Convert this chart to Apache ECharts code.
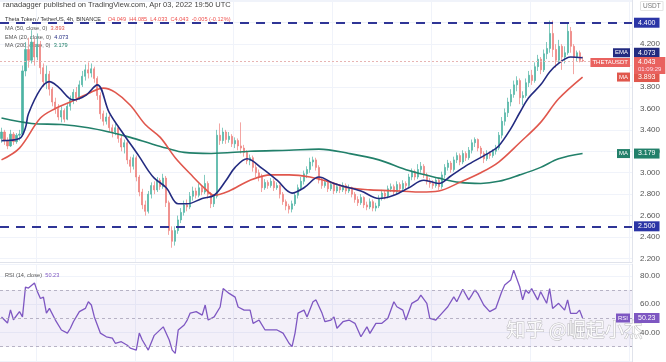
<!DOCTYPE html>
<html><head><meta charset="utf-8">
<script src="https://cdn.jsdelivr.net/npm/echarts@6/dist/echarts.min.js"></script>
<style>html,body{margin:0;padding:0;background:#fff}#c{width:666px;height:362px}</style>
</head><body><div id="c"></div><script>
// [open, close, low, high] per 4h candle
const candles = [
[3.32,3.38,3.28,3.42],[3.38,3.30,3.26,3.40],[3.30,3.25,3.22,3.33],[3.25,3.36,3.24,3.40],[3.36,3.29,3.26,3.38],
[3.29,3.35,3.27,3.37],[3.35,3.36,3.30,3.40],[3.36,3.95,3.34,4.00],[3.95,4.15,3.90,4.22],[4.15,4.05,3.98,4.26],
[4.05,4.22,4.02,4.33],[4.22,4.08,4.00,4.25],[4.08,4.20,4.05,4.30],[4.20,3.98,3.92,4.23],[3.98,3.85,3.80,4.02],
[3.85,3.92,3.78,4.00],[3.92,3.78,3.72,3.95],[3.78,3.66,3.62,3.80],[3.66,3.60,3.55,3.70],[3.60,3.52,3.49,3.64],
[3.52,3.58,3.47,3.62],[3.58,3.50,3.47,3.60],[3.50,3.62,3.49,3.65],[3.62,3.68,3.58,3.72],[3.68,3.75,3.64,3.78],
[3.75,3.70,3.66,3.80],[3.70,3.82,3.68,3.86],[3.82,3.90,3.80,3.95],[3.90,3.96,3.86,4.01],[3.96,3.93,3.88,4.03],
[3.93,3.97,3.89,4.02],[3.97,3.88,3.84,3.99],[3.88,3.72,3.68,3.90],[3.72,3.55,3.50,3.75],[3.55,3.48,3.44,3.58],
[3.48,3.52,3.45,3.56],[3.52,3.42,3.38,3.54],[3.42,3.38,3.33,3.45],[3.38,3.42,3.35,3.46],[3.42,3.32,3.28,3.44],
[3.32,3.24,3.20,3.35],[3.24,3.28,3.18,3.31],[3.28,3.12,3.08,3.30],[3.12,3.06,3.00,3.15],[3.06,3.14,3.03,3.17],
[3.14,2.96,2.92,3.16],[2.96,2.82,2.78,2.98],[2.82,2.70,2.66,2.85],[2.70,2.64,2.60,2.74],[2.64,2.80,2.62,2.83],
[2.80,2.88,2.76,2.91],[2.88,2.84,2.80,2.92],[2.84,2.93,2.82,2.96],[2.93,2.87,2.84,2.95],[2.87,2.95,2.85,2.99],
[2.95,2.72,2.68,2.97],[2.72,2.46,2.42,2.74],[2.46,2.36,2.30,2.50],[2.36,2.46,2.32,2.50],[2.46,2.56,2.43,2.60],
[2.56,2.63,2.53,2.67],[2.63,2.70,2.60,2.74],[2.70,2.68,2.64,2.75],[2.68,2.78,2.66,2.82],[2.78,2.83,2.74,2.87],
[2.83,2.79,2.76,2.86],[2.79,2.86,2.77,2.90],[2.86,2.82,2.79,2.88],[2.82,2.90,2.80,2.98],[2.90,2.80,2.76,2.92],
[2.80,2.71,2.67,2.82],[2.71,2.78,2.68,2.80],[2.78,3.35,2.76,3.40],[3.35,3.30,3.26,3.46],[3.30,3.38,3.27,3.42],
[3.38,3.31,3.27,3.40],[3.31,3.34,3.28,3.38],[3.34,3.27,3.24,3.36],[3.27,3.30,3.23,3.33],[3.30,3.25,3.21,3.32],
[3.25,3.23,3.18,3.47],[3.23,3.19,3.15,3.26],[3.19,3.11,3.08,3.21],[3.11,3.14,3.07,3.17],[3.14,3.05,3.01,3.16],
[3.05,3.00,2.96,3.08],[3.00,2.97,2.92,3.03],[2.97,2.86,2.82,2.99],[2.86,2.91,2.84,2.94],[2.91,2.88,2.85,2.93],
[2.88,2.92,2.86,2.95],[2.92,2.86,2.83,2.94],[2.86,2.88,2.84,2.91],[2.88,2.80,2.76,2.89],[2.80,2.73,2.70,2.82],
[2.73,2.69,2.65,2.75],[2.69,2.66,2.62,2.71],[2.66,2.71,2.63,2.74],[2.71,2.79,2.69,2.82],[2.79,2.86,2.76,2.89],
[2.86,2.92,2.84,2.96],[2.92,2.99,2.89,3.02],[2.99,3.03,2.95,3.06],[3.03,3.10,3.00,3.14],[3.10,3.12,3.06,3.15],
[3.12,3.05,3.02,3.14],[3.05,2.93,2.90,3.07],[2.93,2.88,2.85,2.95],[2.88,2.91,2.86,2.94],[2.91,2.85,2.82,2.93],
[2.85,2.89,2.83,2.92],[2.89,2.83,2.80,2.91],[2.83,2.87,2.81,2.90],[2.87,2.84,2.81,2.89],[2.84,2.88,2.82,2.91],
[2.88,2.83,2.80,2.90],[2.83,2.86,2.81,2.89],[2.86,2.80,2.77,2.87],[2.80,2.75,2.72,2.82],[2.75,2.72,2.69,2.78],
[2.72,2.77,2.70,2.80],[2.77,2.70,2.67,2.78],[2.70,2.68,2.65,2.73],[2.68,2.73,2.66,2.76],[2.73,2.67,2.64,2.75],
[2.67,2.69,2.64,2.72],[2.69,2.76,2.67,2.79],[2.76,2.81,2.74,2.84],[2.81,2.78,2.75,2.83],[2.78,2.85,2.76,2.88],
[2.85,2.87,2.82,2.90],[2.87,2.82,2.79,2.89],[2.82,2.89,2.80,2.92],[2.89,2.85,2.82,2.91],[2.85,2.90,2.83,2.93],
[2.90,2.88,2.85,2.92],[2.88,2.96,2.86,2.99],[2.96,3.01,2.93,3.04],[3.01,2.96,2.93,3.03],[2.96,3.03,2.94,3.08],
[3.03,3.06,3.00,3.10],[3.06,2.98,2.95,3.08],[2.98,2.92,2.89,3.00],[2.92,2.90,2.86,2.95],[2.90,2.88,2.85,2.93],
[2.88,2.93,2.86,2.96],[2.93,2.87,2.84,2.95],[2.87,2.98,2.85,3.01],[2.98,3.05,2.95,3.08],[3.05,3.09,3.02,3.12],
[3.09,3.03,3.00,3.11],[3.03,3.12,3.01,3.15],[3.12,3.16,3.09,3.19],[3.16,3.10,3.07,3.18],[3.10,3.18,3.08,3.21],
[3.18,3.14,3.11,3.20],[3.14,3.21,3.12,3.24],[3.21,3.28,3.18,3.31],[3.28,3.31,3.24,3.33],[3.31,3.23,3.20,3.32],
[3.23,3.18,3.14,3.25],[3.18,3.13,3.09,3.20],[3.13,3.18,3.11,3.21],[3.18,3.16,3.13,3.20],[3.16,3.20,3.14,3.22],
[3.20,3.23,3.17,3.26],[3.23,3.35,3.21,3.38],[3.35,3.48,3.32,3.52],[3.48,3.56,3.44,3.60],[3.56,3.66,3.52,3.70],
[3.66,3.73,3.62,3.78],[3.73,3.82,3.70,3.86],[3.82,3.86,3.76,3.90],[3.86,3.70,3.64,3.88],[3.70,3.72,3.63,3.76],
[3.72,3.84,3.70,3.88],[3.84,3.91,3.80,3.95],[3.91,3.86,3.82,3.96],[3.86,3.99,3.84,4.03],[3.99,4.06,3.95,4.10],
[4.06,3.96,3.92,4.08],[3.96,4.11,3.94,4.15],[4.11,4.16,4.06,4.22],[4.16,4.30,4.12,4.42],[4.30,4.15,4.08,4.42],
[4.15,4.05,3.98,4.20],[4.05,4.18,4.02,4.24],[4.18,4.08,3.96,4.20],[4.08,4.12,4.02,4.18],[4.12,4.32,4.10,4.40],
[4.32,4.18,4.12,4.36],[4.18,4.08,3.92,4.20],[4.08,4.12,4.04,4.14],[4.12,4.049,4.03,4.14],[4.049,4.043,4.033,4.085]
];
// [candle index, value]
const ema20 = [[0,3.30],[6,3.32],[8,3.42],[9,3.55],[13,3.78],[16,3.85],[19,3.80],[24,3.68],[28,3.72],[32,3.82],[36,3.56],[41,3.35],[46,3.15],[49,3.02],[51,2.95],[55,2.86],[59,2.71],[62,2.71],[67,2.76],[71,2.79],[75,2.93],[78,3.05],[82,3.13],[87,3.04],[92,2.93],[97,2.81],[101,2.86],[106,2.96],[111,2.90],[120,2.83],[126,2.76],[131,2.79],[136,2.86],[141,2.93],[146,2.90],[150,2.97],[156,3.08],[163,3.19],[166,3.25],[170,3.41],[173,3.56],[176,3.70],[180,3.82],[183,3.94],[186,4.02],[190,4.08],[194,4.073]];
const ma50 = [[0,3.12],[6,3.23],[13,3.51],[18,3.60],[23,3.66],[29,3.74],[34,3.79],[38,3.75],[43,3.63],[48,3.45],[53,3.33],[58,3.14],[63,2.99],[68,2.85],[71,2.79],[76,2.83],[83,2.93],[90,2.98],[96,2.98],[103,2.96],[110,2.91],[116,2.86],[123,2.84],[133,2.83],[140,2.82],[146,2.83],[153,2.91],[160,3.00],[166,3.10],[173,3.28],[180,3.47],[186,3.69],[194,3.893]];
const ma200 = [[0,3.51],[10,3.46],[20,3.45],[29,3.42],[36,3.38],[43,3.33],[50,3.27],[55,3.23],[61,3.19],[70,3.18],[83,3.20],[96,3.21],[106,3.22],[116,3.18],[126,3.12],[136,3.02],[146,2.95],[153,2.91],[160,2.90],[166,2.92],[173,2.98],[180,3.05],[186,3.13],[194,3.179]];
const rsi14 = [[0,51],[2,46.7],[3,56],[4,49],[6,54.7],[7,51],[8,72],[9,71.4],[11,75],[12,68.8],[13,64],[14,65],[15,53.7],[16,57],[18,48.8],[20,41.8],[22,39.6],[23,43],[24,47.6],[26,54.7],[28,57],[29,61.7],[30,59.4],[31,51],[33,39.6],[35,37],[37,36],[38,32.4],[40,33.5],[42,31],[43,29],[45,27.6],[46,39.6],[47,34.7],[49,27.6],[51,38],[54,44],[56,34.7],[57,27.6],[58,25.3],[59,41.8],[61,45.3],[62,48.8],[63,53.7],[65,54.7],[67,52.3],[68,59.4],[69,48.8],[71,51],[73,58],[74,71],[76,67.6],[78,65],[79,58],[81,55.8],[83,55.8],[84,46.5],[86,48.8],[88,41.8],[90,41.8],[92,41.8],[94,39.6],[96,32.4],[97,30],[98,39.6],[99,53.7],[101,55.8],[102,51],[104,61.7],[105,63],[107,53.7],[108,47.6],[110,48.8],[111,51],[112,43],[114,47.6],[116,48.8],[118,46.5],[120,37],[122,44],[123,39.4],[125,46.5],[127,46.5],[129,50],[131,61.7],[132,58.2],[134,55.8],[135,48.8],[137,60.6],[139,63],[140,66.4],[142,60.6],[143,50],[145,48.8],[147,53.5],[149,58.2],[151,65.2],[152,61.7],[154,70.5],[156,63],[157,66.4],[158,70],[159,67.6],[161,59.4],[163,54.7],[165,57],[167,68.8],[168,73.5],[170,77],[171,84],[173,72.3],[174,63],[175,70],[176,67.6],[177,71],[179,63],[180,68.8],[182,60.6],[183,71],[184,57],[186,60.6],[188,55.8],[189,63],[190,53.5],[192,53.5],[193,55.8],[194,50.23]];
const priceTicks = [2.2,2.4,2.6,2.8,3.0,3.2,3.4,3.6,3.8,4.0,4.2];
const rsiTicks = [40,60,80];
const levels = [4.4, 2.5];
const lastPrice = 4.043;
const rsiBands = [70, 50, 30];

const N = candles.length, PAD = 16;
const categories = [];
const t0 = Date.UTC(2022, 2, 2, 8);
for (let i = 0; i < N + PAD; i++) {
  const d = new Date(t0 + i * 4 * 3600e3);
  categories.push((d.getUTCMonth()+1) + '/' + d.getUTCDate() + ' ' + d.getUTCHours() + ':00');
}
const FONT = 'Liberation Sans, Arial, sans-serif';
const chart = echarts.init(document.getElementById('c'), null, {renderer: 'canvas'});
const near = (v, arr) => arr.some(t => Math.abs(t - v) < 1e-6);
const grid = {color: '#f0f3fa', width: 1};
const vLine = idx => (idx - 12) % 33 === 0;
const UP = '#4db3a4', DOWN = '#ee7f7b';

chart.setOption({
  animation: false,
  backgroundColor: '#fff',
  grid: [
    {left: 0, right: 34, top: 0, height: 262},
    {left: 0, right: 34, top: 264, bottom: 0}
  ],
  xAxis: [
    {type: 'category', gridIndex: 0, data: categories, boundaryGap: true,
     axisLine: {show: true, lineStyle: {color: '#e0e3eb'}}, axisTick: {show: false}, axisLabel: {show: false},
     splitLine: {show: true, interval: vLine, lineStyle: grid}},
    {type: 'category', gridIndex: 1, data: categories, boundaryGap: true,
     axisLine: {show: false}, axisTick: {show: false}, axisLabel: {show: false},
     splitLine: {show: true, interval: vLine, lineStyle: grid}}
  ],
  yAxis: [
    {type: 'value', gridIndex: 0, position: 'right', min: 2.167, max: 4.612, splitNumber: 10, scale: true,
     axisLine: {show: true, lineStyle: {color: '#e0e3eb'}}, axisTick: {show: false},
     axisLabel: {fontSize: 8, color: '#555', fontFamily: FONT, margin: 8, showMinLabel: false, showMaxLabel: false,
       formatter: v => near(v, priceTicks) ? v.toFixed(3) : ''},
     splitLine: {show: true, lineStyle: grid}},
    {type: 'value', gridIndex: 1, position: 'right', min: 19.2, max: 88.34, splitNumber: 3,
     axisLine: {show: true, lineStyle: {color: '#e0e3eb'}}, axisTick: {show: false},
     axisLabel: {fontSize: 8, color: '#555', fontFamily: FONT, margin: 8, showMinLabel: false, showMaxLabel: false,
       formatter: v => near(v, rsiTicks) ? v.toFixed(2) : ''},
     splitLine: {show: true, lineStyle: grid}}
  ],
  series: [
    {type: 'candlestick', xAxisIndex: 0, yAxisIndex: 0, data: candles, barWidth: 1.6,
     itemStyle: {color: UP, color0: DOWN, borderColor: UP, borderColor0: DOWN, borderWidth: 0.7},
     markLine: {silent: true, symbol: ['none', 'none'], label: {show: false},
       data: [
         ...levels.map(v => ({yAxis: v, lineStyle: {color: '#2f3596', width: 2, type: [9, 7]}})),
         {yAxis: lastPrice, lineStyle: {color: '#e7b4b3', width: 1, type: [2, 2]}}
       ]}},
    {type: 'line', name: 'MA200', xAxisIndex: 0, yAxisIndex: 0, data: ma200, smooth: 0.35, showSymbol: false,
     lineStyle: {color: '#22806a', width: 1.6}},
    {type: 'line', name: 'MA50', xAxisIndex: 0, yAxisIndex: 0, data: ma50, smooth: 0.35, showSymbol: false,
     lineStyle: {color: '#e0574d', width: 1.6}},
    {type: 'line', name: 'EMA20', xAxisIndex: 0, yAxisIndex: 0, data: ema20, smooth: 0.35, showSymbol: false,
     lineStyle: {color: '#232b80', width: 1.6}},
    {type: 'line', name: 'RSI', xAxisIndex: 1, yAxisIndex: 1, data: rsi14, showSymbol: false,
     lineStyle: {color: '#7e57c2', width: 1.3},
     markArea: {silent: true, itemStyle: {color: 'rgba(126,87,194,0.09)'}, data: [[{yAxis: rsiBands[0]}, {yAxis: rsiBands[2]}]]},
     markLine: {silent: true, symbol: ['none', 'none'], label: {show: false},
       lineStyle: {color: '#a7a3b8', width: 0.8, type: [3, 3]},
       data: rsiBands.map(v => ({yAxis: v}))}}
  ]
});

function tag(axis, val, left, right, bg, dy) {
  const y = chart.convertToPixel({yAxisIndex: axis}, val) + (dy || 0);
  const out = [];
  if (left) out.push({type: 'text', z: 100, style: {text: left, x: 630, y: y, align: 'right', verticalAlign: 'middle',
    fill: '#fff', backgroundColor: bg, padding: [2, 2, 1, 2], font: '6px ' + FONT}});
  out.push({type: 'text', z: 100, style: {text: right, x: 634, y: y, align: 'left', verticalAlign: 'middle',
    fill: '#fff', backgroundColor: bg, padding: [2, 4, 1, 4], font: '7px ' + FONT}});
  return out;
}
const yLast = chart.convertToPixel({yAxisIndex: 0}, lastPrice);
const LF = '5.6px ' + FONT;
const g = [
  {type: 'text', left: 3, top: 1, style: {text: 'ranadagger published on TradingView.com, Apr 03, 2022 19:50 UTC', font: '7.5px ' + FONT, fill: '#444'}},
  {type: 'text', left: 5, top: 13, style: {
    text: '{a|Theta Token / TetherUS, 4h, BINANCE}  {r|O4.049  H4.085  L4.033  C4.043  -0.005 (-0.12%)}',
    rich: {a: {font: LF, fill: '#333'}, r: {font: LF, fill: '#ef5350'}}}},
  {type: 'text', left: 5, top: 22.5, style: {text: '{a|MA (50, close, 0)} {v|3.893}', rich: {a: {font: LF, fill: '#555'}, v: {font: LF, fill: '#e0574d'}}}},
  {type: 'text', left: 5, top: 31, style: {text: '{a|EMA (20, close, 0)} {v|4.073}', rich: {a: {font: LF, fill: '#555'}, v: {font: LF, fill: '#232b80'}}}},
  {type: 'text', left: 5, top: 39.5, style: {text: '{a|MA (200, close, 0)} {v|3.179}', rich: {a: {font: LF, fill: '#555'}, v: {font: LF, fill: '#22806a'}}}},
  {type: 'text', left: 5, top: 269, style: {text: '{a|RSI (14, close)} {v|50.23}', rich: {a: {font: LF, fill: '#555'}, v: {font: LF, fill: '#7e57c2'}}}},
  {type: 'text', z: 100, style: {text: 'USDT', x: 641, y: 2, font: '6.5px ' + FONT, fill: '#777',
    backgroundColor: '#fff', borderColor: '#ccc', borderWidth: 0.6, padding: [1, 2, 0, 2]}},
  ...tag(0, levels[0], null, '4.400', '#2b35a6'),
  ...tag(0, levels[1], null, '2.500', '#2b35a6'),
  ...tag(0, 4.073, 'EMA', '4.073', '#232b80', -5),
  {type: 'text', z: 101, style: {text: 'THETAUSDT', x: 630, y: yLast + 1.5, align: 'right', verticalAlign: 'middle',
    fill: '#fff', backgroundColor: '#e9625f', padding: [2, 2, 1, 2], font: '6px ' + FONT}},
  {type: 'text', z: 101, style: {text: '{p|4.043}\n{s|01:09:29}', x: 634, y: yLast - 4, align: 'left', verticalAlign: 'top',
    backgroundColor: '#e9625f', padding: [1, 4, 1, 4],
    rich: {p: {font: '7px ' + FONT, fill: '#fff', lineHeight: 8}, s: {font: '6px ' + FONT, fill: '#fde', lineHeight: 7}}}},
  ...tag(0, 3.893, 'MA', '3.893', '#e0574d'),
  ...tag(0, 3.179, 'MA', '3.179', '#22806a'),
  ...tag(1, 50.23, 'RSI', '50.23', '#7e57c2'),
  {type: 'text', z: 120, left: 506, top: 320, style: {text: '知乎 @崛起小杰', font: '19px "Noto Sans CJK SC"',
    fill: 'rgba(255,255,255,0.92)', stroke: 'rgba(140,140,140,0.55)', lineWidth: 1}}
];
chart.setOption({graphic: g});
</script></body></html>
